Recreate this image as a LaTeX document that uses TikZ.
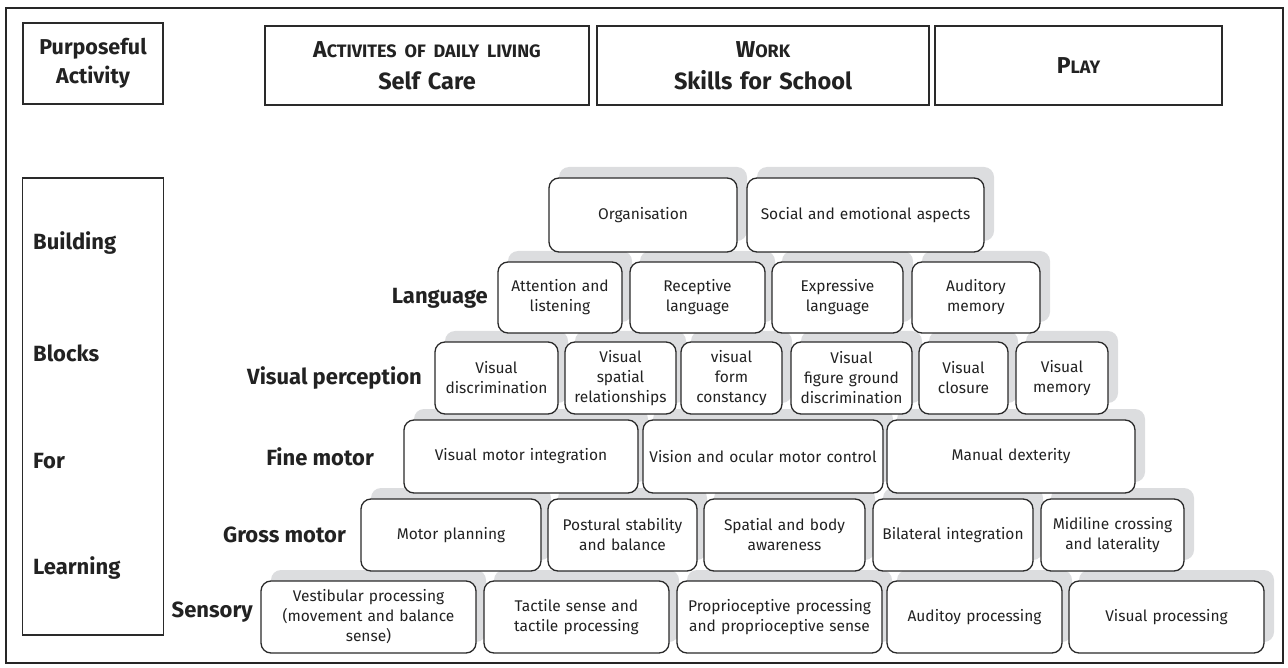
\documentclass[tikz,border=0pt]{standalone}
\usepackage{fontspec}
\setmainfont{Fira Sans}
\definecolor{boxline}{HTML}{2A2A2A}
\definecolor{txt}{HTML}{222222}
\definecolor{shadowgray}{HTML}{DCDDDF}
\pgfdeclarelayer{shadowlayer}
\pgfsetlayers{shadowlayer,main}
\newcommand\fsc[2]{{\fontsize{23}{32}\selectfont #1}{\fontsize{18}{32}\selectfont #2}}
\tikzset{
  blk/.style={draw=boxline, line width=1.3pt, rounded corners=10pt, fill=white,
    align=center, text=txt, inner sep=2pt, font=\fontsize{15.5}{20}\selectfont},
  hdr/.style={draw=boxline, line width=1.2pt, fill=white, align=center, text=txt,
    inner sep=2pt, font=\bfseries\fontsize{23.5}{32}\selectfont},
  lbl/.style={font=\bfseries\fontsize{22}{24}\selectfont, text=txt, inner sep=0pt},
  frame/.style={line width=2.5pt, draw=black!85}
}
\newcommand\blk[6]{%
  \begin{pgfonlayer}{shadowlayer}
    \fill[shadowgray, rounded corners=10pt] ({#2+10},{#3-11}) rectangle ({#4+10},{#5-11});
  \end{pgfonlayer}
  \pgfmathsetmacro\mybw{#4-#2}\pgfmathsetmacro\mybh{#5-#3}\pgfmathsetmacro\mytw{#4-#2-4}%
  \node[blk, minimum width=\mybw pt, minimum height=\mybh pt, text width=\mytw pt] (#1) at ({(#2+#4)/2},{(#3+#5)/2}) {#6};
}
\newcommand\hdrbox[7][hdr]{%
  \pgfmathsetmacro\mybw{#5-#3}\pgfmathsetmacro\mybh{#6-#4}\pgfmathsetmacro\mytw{#5-#3-6}%
  \node[#1, minimum width=\mybw pt, minimum height=\mybh pt, text width=\mytw pt] (#2) at ({(#3+#5)/2},{(#4+#6)/2}) {#7};
}
\begin{document}
\begin{tikzpicture}[x=1pt, y=-1pt]
\useasboundingbox (0,0) rectangle (1288,668);
\draw[frame] (6,8) rectangle (1283,663);

% header
\hdrbox[hdr, font=\bfseries\fontsize{21.5}{29}\selectfont]{pa}{23}{23}{163}{104}{Purposeful\\Activity}
\hdrbox{adl}{265}{26}{589}{105}{\fsc{A}{CTIVITES OF DAILY LIVING}\\Self Care}
\hdrbox{work}{597}{26}{929}{105}{\fsc{W}{ORK}\\Skills for School}
\hdrbox{play}{935}{26}{1222}{105}{\fsc{P}{LAY}}

% left column
\hdrbox[draw=boxline, line width=1.2pt, fill=white]{bbl}{23}{178}{163}{635}{}
\node[lbl, anchor=west] (t1) at (33,243) {Building};
\node[lbl, anchor=west] (t2) at (33,353) {Blocks};
\node[lbl, anchor=west] (t3) at (33,461) {For};
\node[lbl, anchor=west] (t4) at (33,568) {Learning};

% row labels
\node[lbl, anchor=east] (lang) at (488,298) {Language};
\node[lbl, anchor=east] (vp) at (422,378) {Visual perception};
\node[lbl, anchor=east] (fm) at (374,457) {Fine motor};
\node[lbl, anchor=east] (gm) at (346,535) {Gross motor};
\node[lbl, anchor=east] (sen) at (253,612) {Sensory};

% row 1
\blk{org}{549}{178}{737}{252}{Organisation}
\blk{soc}{747}{178}{984}{252}{Social and emotional aspects}
% row 2
\blk{att}{498}{262}{622}{333}{Attention and\\listening}
\blk{rec}{630}{262}{765}{333}{Receptive\\language}
\blk{exp}{772}{262}{903}{333}{Expressive\\language}
\blk{aud}{912}{262}{1040}{333}{Auditory\\memory}
% row 3
\blk{vdisc}{435}{342}{558}{414}{Visual\\discrimination}
\blk{vspat}{565}{342}{676}{414}{Visual\\spatial\\relationships}
\blk{vform}{681}{342}{782}{414}{visual\\form\\constancy}
\blk{vfig}{791}{342}{912}{414}{Visual\\figure ground\\discrimination}
\blk{vclo}{919}{342}{1008}{414}{Visual\\closure}
\blk{vmem}{1016}{342}{1108}{414}{Visual\\memory}
% row 4
\blk{vmi}{404}{420}{638}{493}{Visual motor integration}
\blk{ocu}{643}{420}{883}{493}{Vision and ocular motor control}
\blk{man}{887}{420}{1135}{493}{Manual dexterity}
% row 5
\blk{mpl}{361}{499}{541}{571}{Motor planning}
\blk{pos}{548}{499}{697}{571}{Postural stability\\and balance}
\blk{spa}{704}{499}{865}{571}{Spatial and body\\awareness}
\blk{bil}{873}{499}{1033}{571}{Bilateral integration}
\blk{mid}{1041}{499}{1184}{571}{Midiline crossing\\and laterality}
% row 6
\blk{ves}{261}{581}{476}{653}{Vestibular processing\\(movement and balance\\sense)}
\blk{tac}{484}{581}{669}{653}{Tactile sense and\\tactile processing}
\blk{pro}{677}{581}{882}{653}{Proprioceptive processing\\and proprioceptive sense}
\blk{audp}{887}{581}{1062}{653}{Auditoy processing}
\blk{visp}{1069}{581}{1264}{653}{Visual processing}
\end{tikzpicture}
\end{document}
